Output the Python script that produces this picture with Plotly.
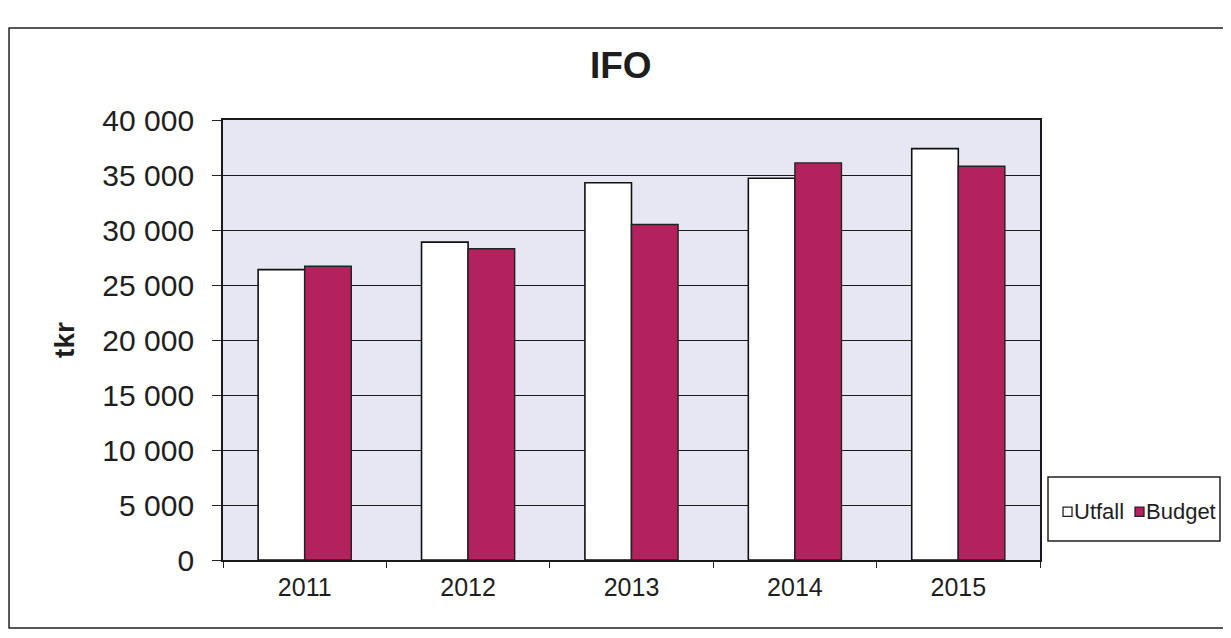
import plotly.graph_objects as go

# Data (tkr)
years = ['2011', '2012', '2013', '2014', '2015']
utfall = [26400, 28900, 34300, 34700, 37400]
budget = [26700, 28300, 30500, 36100, 35800]
y_ticks = [0, 5000, 10000, 15000, 20000, 25000, 30000, 35000, 40000]
y_tick_labels = ['0', '5 000', '10 000', '15 000', '20 000', '25 000', '30 000', '35 000', '40 000']

FONT = 'Liberation Sans, Arial, sans-serif'
TEXT = '#1e1e1e'
UTFALL_COLOR = '#ffffff'
BUDGET_COLOR = '#b3225e'

# page body has an 8px margin, so the figure is a bit smaller than the window
W, H = 1223, 622

fig = go.Figure()

fig.add_trace(go.Bar(
    x=years, y=utfall, name='Utfall', showlegend=False,
    marker=dict(color=UTFALL_COLOR, line=dict(color='#111111', width=1.6)),
))
fig.add_trace(go.Bar(
    x=years, y=budget, name='Budget', showlegend=False,
    marker=dict(color=BUDGET_COLOR, line=dict(color='#222222', width=1.4)),
))

# Outer chart frame (right edge runs off the page in the scan)
fig.add_shape(type='rect', xref='paper', yref='paper',
              x0=-0.2619, x1=1.26, y0=-0.1545, y1=1.209,
              line=dict(color='#222222', width=1.5), layer='below')

# Compact Excel-style legend box to the right of the plot
fig.add_shape(type='rect', xref='paper', yref='paper',
              x0=1.0098, x1=1.2203, y0=0.0432, y1=0.1886,
              line=dict(color='#222222', width=1.5), fillcolor='white')
legend_items = [('Utfall', UTFALL_COLOR, 1.0282), ('Budget', BUDGET_COLOR, 1.1163)]
for name, color, x0 in legend_items:
    fig.add_shape(type='rect', xref='paper', yref='paper',
                  x0=x0, x1=x0 + 0.011, y0=0.099, y1=0.12,
                  line=dict(color='#222222', width=1.3), fillcolor=color)
    fig.add_annotation(text=name, xref='paper', yref='paper',
                       x=x0 + 0.0115, y=0.1095, xanchor='left', yanchor='middle',
                       showarrow=False, font=dict(size=22, family=FONT, color=TEXT))

fig.update_layout(
    width=W, height=H,
    margin=dict(l=215, r=191, t=112, b=70, autoexpand=False),
    paper_bgcolor='white',
    plot_bgcolor='#e7e7f3',
    font=dict(family=FONT, color=TEXT),
    title=dict(text='<b>IFO</b>', x=0.501, xanchor='center', y=0.9084, yanchor='middle',
               font=dict(size=37, family=FONT, color=TEXT)),
    barmode='group', bargap=0.43, bargroupgap=0,
    showlegend=False,
)

fig.update_yaxes(
    range=[0, 40000], tickvals=y_ticks, ticktext=y_tick_labels,
    tickfont=dict(size=30, family=FONT, color=TEXT),
    ticks='outside', ticklen=9, tickcolor='#222222', tickwidth=1.3,
    ticklabelstandoff=12,
    showgrid=True, gridcolor='#1a1a1a', gridwidth=1.3,
    showline=True, linecolor='#1a1a1a', linewidth=1.8, mirror=True,
    zeroline=False,
    title=dict(text='<b>tkr</b>', font=dict(size=28, family=FONT, color=TEXT), standoff=20),
)

fig.update_xaxes(
    type='category',
    tickfont=dict(size=25, family=FONT, color=TEXT),
    ticks='outside', tickson='boundaries', ticklen=6, tickcolor='#222222', tickwidth=1.3,
    ticklabelstandoff=4,
    showline=True, linecolor='#1a1a1a', linewidth=1.8, mirror=True,
    showgrid=False,
)

fig.write_html('out.html')
